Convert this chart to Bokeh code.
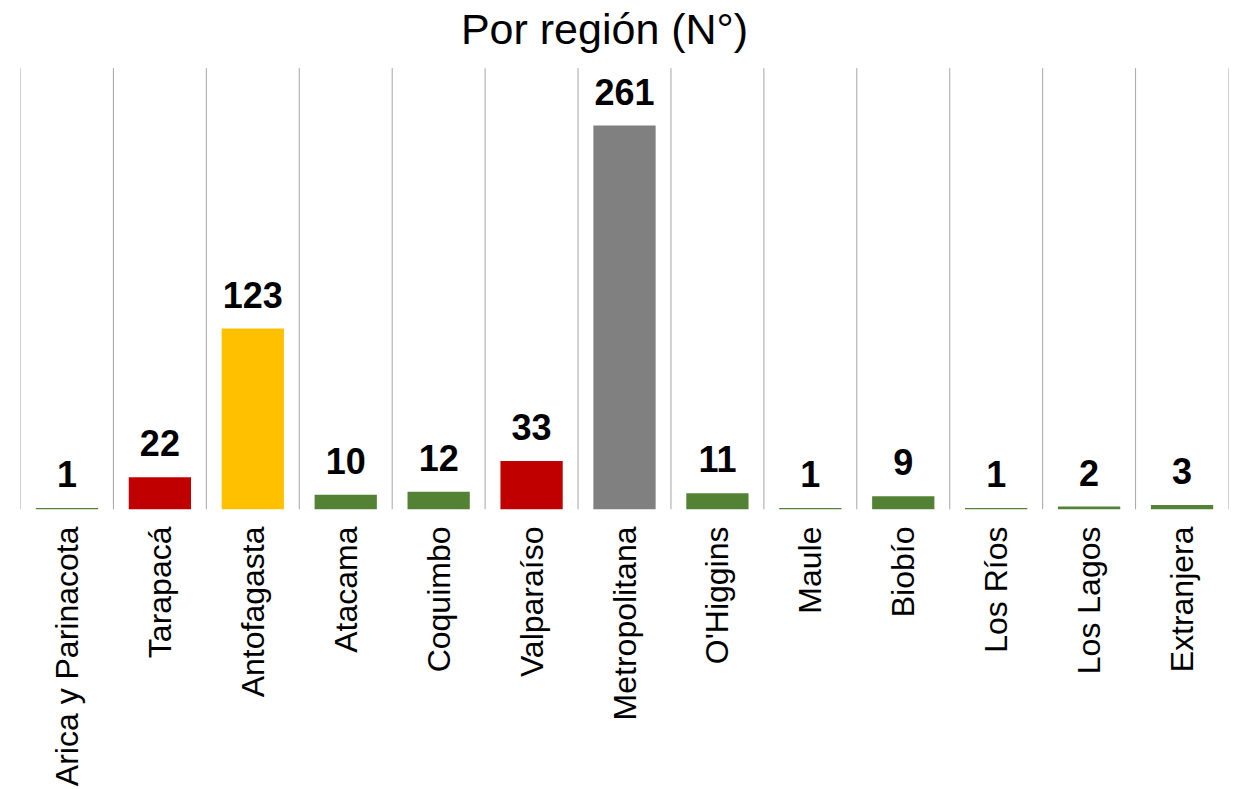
from bokeh.plotting import figure
from bokeh.models import ColumnDataSource, Range1d
from bokeh.transform import dodge
from bokeh.core.properties import value
from bokeh.embed import file_html
from bokeh.resources import INLINE
import math

regions = ["Arica y Parinacota", "Tarapacá", "Antofagasta", "Atacama", "Coquimbo",
           "Valparaíso", "Metropolitana", "O'Higgins", "Maule", "Biobío",
           "Los Ríos", "Los Lagos", "Extranjera"]
counts = [1, 22, 123, 10, 12, 33, 261, 11, 1, 9, 1, 2, 3]
colors = ["#548235", "#C00000", "#FFC000", "#548235", "#548235", "#C00000",
          "#808080", "#548235", "#548235", "#548235", "#548235", "#548235", "#548235"]
labels = [str(c) for c in counts]
title_text = "Por región (N°)"

AXIS_MAX = 300
src = ColumnDataSource(dict(region=regions, count=counts, color=colors, label=labels))

p = figure(x_range=regions, y_range=Range1d(0, 346), width=1238, height=789,
           output_backend="svg", toolbar_location=None,
           min_border_left=20, min_border_right=10, min_border_top=0, min_border_bottom=279)
p.outline_line_color = None
p.background_fill_color = "white"
p.border_fill_color = "white"

p.xgrid.visible = False
p.ygrid.visible = False
p.yaxis.visible = False

# category boundary lines
p.segment(x0=dodge("region", -0.5, range=p.x_range), y0=0,
          x1=dodge("region", -0.5, range=p.x_range), y1=AXIS_MAX,
          source=ColumnDataSource(dict(region=regions)),
          line_color="#A6A6A6", line_width=1)
p.segment(x0=dodge("region", 0.5, range=p.x_range), y0=0,
          x1=dodge("region", 0.5, range=p.x_range), y1=AXIS_MAX,
          source=ColumnDataSource(dict(region=[regions[-1]])),
          line_color="#A6A6A6", line_width=1)

p.vbar(x="region", top="count", width=0.67, color="color", source=src, line_color=None)

p.text(x="region", y="count", text="label", source=src,
       text_align="center", text_baseline="alphabetic", y_offset=-34,
       text_font=value("Liberation Sans"), text_font_size="36px",
       text_font_style="bold", text_color="black")

# chart title
p.text(x=dodge("region", -0.215, range=p.x_range), y="y", text="t",
       source=ColumnDataSource(dict(region=[regions[6]], y=[326.5], t=[title_text])),
       text_align="center", text_baseline="alphabetic",
       text_font=value("Liberation Sans"), text_font_size="43px",
       text_color="black")

ax = p.xaxis[0]
ax.axis_line_color = None
ax.major_tick_line_color = None
ax.minor_tick_line_color = None
ax.major_tick_out = 0
ax.major_tick_in = 0
ax.major_label_orientation = math.pi / 2
ax.major_label_standoff = 17
ax.major_label_text_font = "Liberation Sans"
ax.major_label_text_font_size = "32px"
ax.major_label_text_color = "black"

open("out.html", "w").write(file_html(p, INLINE))
